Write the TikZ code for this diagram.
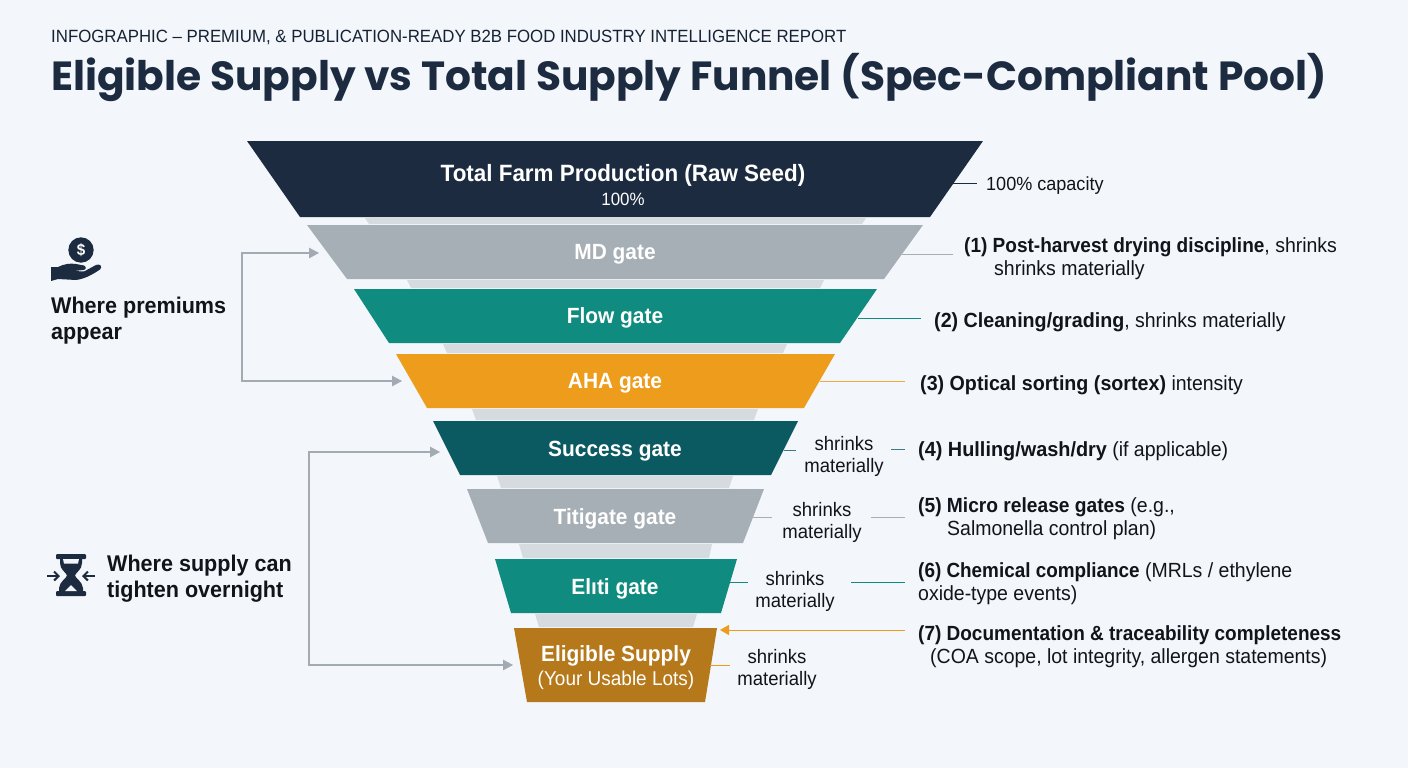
\documentclass[tikz,border=0pt]{standalone}
\usepackage{fontspec}
\usepackage{graphicx}
\setmainfont{Liberation Sans}[FakeStretch=0.95]
\newfontfamily\titlefont{Poppins}
\usetikzlibrary{arrows.meta}
\definecolor{navy}{HTML}{1C2B40}
\definecolor{ink}{HTML}{10151C}
\definecolor{greyband}{HTML}{A6AFB6}
\definecolor{tealband}{HTML}{0F8B7F}
\definecolor{orangeband}{HTML}{EE9C1C}
\definecolor{deepteal}{HTML}{0B5A62}
\definecolor{goldband}{HTML}{B5781A}
\definecolor{stripband}{HTML}{D6DBDF}
\definecolor{pagebg}{HTML}{F3F6FA}
\definecolor{arrowgrey}{HTML}{A3ABB2}
\newcommand{\bx}[2]{\scalebox{#1}[1]{\textbf{#2}}}
\tikzset{
  x=1pt,y=-1pt,
  strip/.style={fill=stripband,draw=none},
  bandlabel/.style={text=white,font=\fontsize{22}{26}\selectfont\bfseries,inner sep=0pt,align=center},
  side/.style={text=ink,font=\fontsize{20.5}{23}\selectfont,inner sep=0pt,align=left,anchor=west},
  mini/.style={text=ink,font=\fontsize{19.5}{22}\selectfont,inner sep=0pt,align=center},
  lead/.style={line width=1pt},
  twotip/.style={draw=arrowgrey,line width=1.1pt,{Triangle[length=10pt,width=10.5pt]}-{Triangle[length=10pt,width=10.5pt]}},
  headline/.style={text=ink,inner sep=0pt,align=left},
  leftlabel/.style={text=ink,inner sep=0pt,align=left,anchor=west,font=\fontsize{22.7}{26}\selectfont\bfseries},
}
\begin{document}
\begin{tikzpicture}
\useasboundingbox (0,0) rectangle (1408,768);
\fill[pagebg] (0,0) rectangle (1408,768);

% header
\node[headline,anchor=base west,text=navy!80!black] (kicker) at (51,43) {\fontsize{17.7}{20}\selectfont INFOGRAPHIC – PREMIUM, \& PUBLICATION-READY B2B FOOD INDUSTRY INTELLIGENCE REPORT};
\node[headline,anchor=base west,text=navy] (title) at (51,91) {\titlefont\fontsize{40.72}{46}\selectfont\bfseries Eligible Supply vs Total Supply Funnel (Spec-Compliant Pool)};

% strips between bands
\fill[strip] (365,218) -- (866,218) -- (862,224) -- (369,224) -- cycle;
\fill[strip] (407,280) -- (824,280) -- (820,288) -- (411,288) -- cycle;
\fill[strip] (443,344) -- (787,344) -- (783,353) -- (447,353) -- cycle;
\fill[strip] (472,409) -- (758,409) -- (754,420) -- (476,420) -- cycle;
\fill[strip] (497,476) -- (733,476) -- (729,488) -- (501,488) -- cycle;
\fill[strip] (519,544) -- (712,544) -- (709,558) -- (523,558) -- cycle;
\fill[strip] (535,614) -- (697,614) -- (693,627) -- (539,627) -- cycle;

% bands
\fill[navy] (247,141) -- (983,141) -- (930,217) -- (300,217) -- cycle;
\fill[greyband] (307,225) -- (923,225) -- (884,279) -- (347,279) -- cycle;
\fill[tealband] (354,289) -- (877,289) -- (840,343) -- (389,343) -- cycle;
\fill[orangeband] (396,354) -- (835,354) -- (804,408) -- (427,408) -- cycle;
\fill[deepteal] (433,421) -- (798,421) -- (771,475) -- (460,475) -- cycle;
\fill[greyband] (467,489) -- (764,489) -- (743,543) -- (488,543) -- cycle;
\fill[tealband] (495,559) -- (737,559) -- (721,613) -- (511,613) -- cycle;
\fill[goldband] (514,628) -- (717,628) -- (705,702) -- (527,702) -- cycle;

% band labels
\node[bandlabel,font=\fontsize{23.6}{26}\selectfont\bfseries] (l0) at (623,175) {Total Farm Production (Raw Seed)};
\node[text=white,inner sep=0pt,font=\fontsize{17.8}{20}\selectfont] (l0b) at (623,199) {100\%};
\node[bandlabel] (l1) at (615,254) {MD gate};
\node[bandlabel] (l2) at (615,318) {Flow gate};
\node[bandlabel] (l3) at (615,383) {AHA gate};
\node[bandlabel] (l4) at (615,451) {Success gate};
\node[bandlabel] (l5) at (615,519) {Titigate gate};
\node[bandlabel] (l6) at (615,589) {Elıti gate};
\node[bandlabel] (l7) at (616,656) {Eligible Supply};
\node[text=white,inner sep=0pt,font=\fontsize{20}{22}\selectfont] (l7b) at (616,680) {(Your Usable Lots)};

% right labels
\node[side,font=\fontsize{19}{22}\selectfont] (r0) at (986,186) {100\% capacity};
\node[side] (r1) at (964,259) {\bx{.977}{(1) Post-harvest drying discipline}, shrinks\\\hspace*{30pt}shrinks materially};
\node[side] (r2) at (934,322) {\bx{1.01}{(2) Cleaning/grading}, shrinks materially};
\node[side] (r3) at (920,385) {\bx{1.01}{(3) Optical sorting (sortex)} intensity};
\node[side] (r4) at (918,451) {\bx{1.02}{(4) Hulling/wash/dry} (if applicable)};
\node[side] (r5) at (918,519) {\bx{.985}{(5) Micro release gates} (e.g.,\\\hspace*{29pt}Salmonella control plan)};
\node[side] (r6) at (918,584) {\bx{.97}{(6) Chemical compliance} (MRLs / ethylene\\oxide-type events)};
\node[side] (r7) at (918,647) {\bx{.975}{(7) Documentation \& traceability completeness}\\\hspace*{12pt}(COA scope, lot integrity, allergen statements)};
\node[mini] (m4) at (844,456) {shrinks\\materially};
\node[mini] (m5) at (822,522) {shrinks\\materially};
\node[mini] (m6) at (795,591) {shrinks\\materially};
\node[mini] (m7) at (777,669) {shrinks\\materially};

% leaders
\coordinate (a0) at (953,183); \coordinate (b0) at (977,183);
\draw[lead,navy] (a0) -- (b0);
\coordinate (a1) at (902,254); \coordinate (b1) at (953,254);
\draw[lead,greyband] (a1) -- (b1);
\coordinate (a2) at (858,318); \coordinate (b2) at (921,318);
\draw[lead,tealband] (a2) -- (b2);
\coordinate (a3) at (820,381); \coordinate (b3) at (905,381);
\draw[lead,orangeband!85!white] (a3) -- (b3);
\coordinate (a4) at (784,450); \coordinate (b4) at (796,450);
\coordinate (c4) at (891,449); \coordinate (d4) at (905,449);
\draw[lead,deepteal!80!white] (a4) -- (b4); \draw[lead,deepteal!80!white] (c4) -- (d4);
\coordinate (a5) at (752,517); \coordinate (b5) at (772,517);
\coordinate (c5) at (871,517); \coordinate (d5) at (905,517);
\draw[lead,greyband] (a5) -- (b5); \draw[lead,greyband] (c5) -- (d5);
\coordinate (a6) at (728,582); \coordinate (b6) at (748,582);
\coordinate (c6) at (851,582); \coordinate (d6) at (905,582);
\draw[lead,tealband] (a6) -- (b6); \draw[lead,tealband] (c6) -- (d6);
\coordinate (a7) at (710,665); \coordinate (b7) at (730,665);
\draw[lead,orangeband] (a7) -- (b7);
\coordinate (c7) at (905,630); \coordinate (d7) at (720,630);
\draw[lead,orangeband,-{Triangle[length=9pt,width=10pt]}] (c7) -- (d7);

% left groups
\node[leftlabel] (prem) at (51,321) {Where premiums\\appear};
\node[leftlabel] (tight) at (107,579) {Where supply can\\tighten overnight};

\coordinate (pa) at (242,253); \coordinate (pb) at (242,381);
\coordinate (pt) at (319,253); \coordinate (pu) at (402,381);
\draw[twotip] (pt) -- (pa) -- (pb) -- (pu);
\coordinate (sa) at (309,452); \coordinate (sb) at (309,665);
\coordinate (st) at (440,452); \coordinate (su) at (513,665);
\draw[twotip] (st) -- (sa) -- (sb) -- (su);

% hand with coin icon
\fill[navy] (81,250) circle (12.7);
\node[text=white,inner sep=0pt,font=\fontsize{16}{16}\selectfont\bfseries] (coin) at (81,250.5) {\$};
\fill[navy] (51,267) -- (58,267) .. controls (64,264) and (70,263) .. (76,264)
  -- (84,265.5) .. controls (87,267) and (86,270) .. (83,270) -- (74,271) -- (84,271.5)
  -- (96,265) .. controls (100,263) and (103,267) .. (100,269.5)
  .. controls (92,275) and (84,279) .. (76,280) -- (58,279) -- (51,281) -- cycle;

% hourglass icon
\fill[navy,rounded corners=1pt] (56,554) rectangle (86,559);
\fill[navy,rounded corners=1pt] (56,591) rectangle (86,596);
\fill[navy] (60,558) -- (82,558) -- (82,563) .. controls (82,570) and (76,572) .. (75,575.5)
  .. controls (76,579) and (82,581) .. (83,588) -- (83,592) -- (59,592) -- (59,588)
  .. controls (60,581) and (66,579) .. (67,575.5) .. controls (66,572) and (60,570) .. (60,563) -- cycle;
\fill[pagebg] (63,559) -- (79,559) -- (78,563.5) -- (64,563.5) -- cycle;
\fill[pagebg] (71,585) -- (77,591) -- (65,591) -- cycle;
\draw[navy,line width=2pt,-{Straight Barb[length=4.5pt,width=9pt]}] (47,576) -- (60,576);
\draw[navy,line width=2pt,-{Straight Barb[length=4.5pt,width=9pt]}] (95,576) -- (82,576);
\end{tikzpicture}
\end{document}
